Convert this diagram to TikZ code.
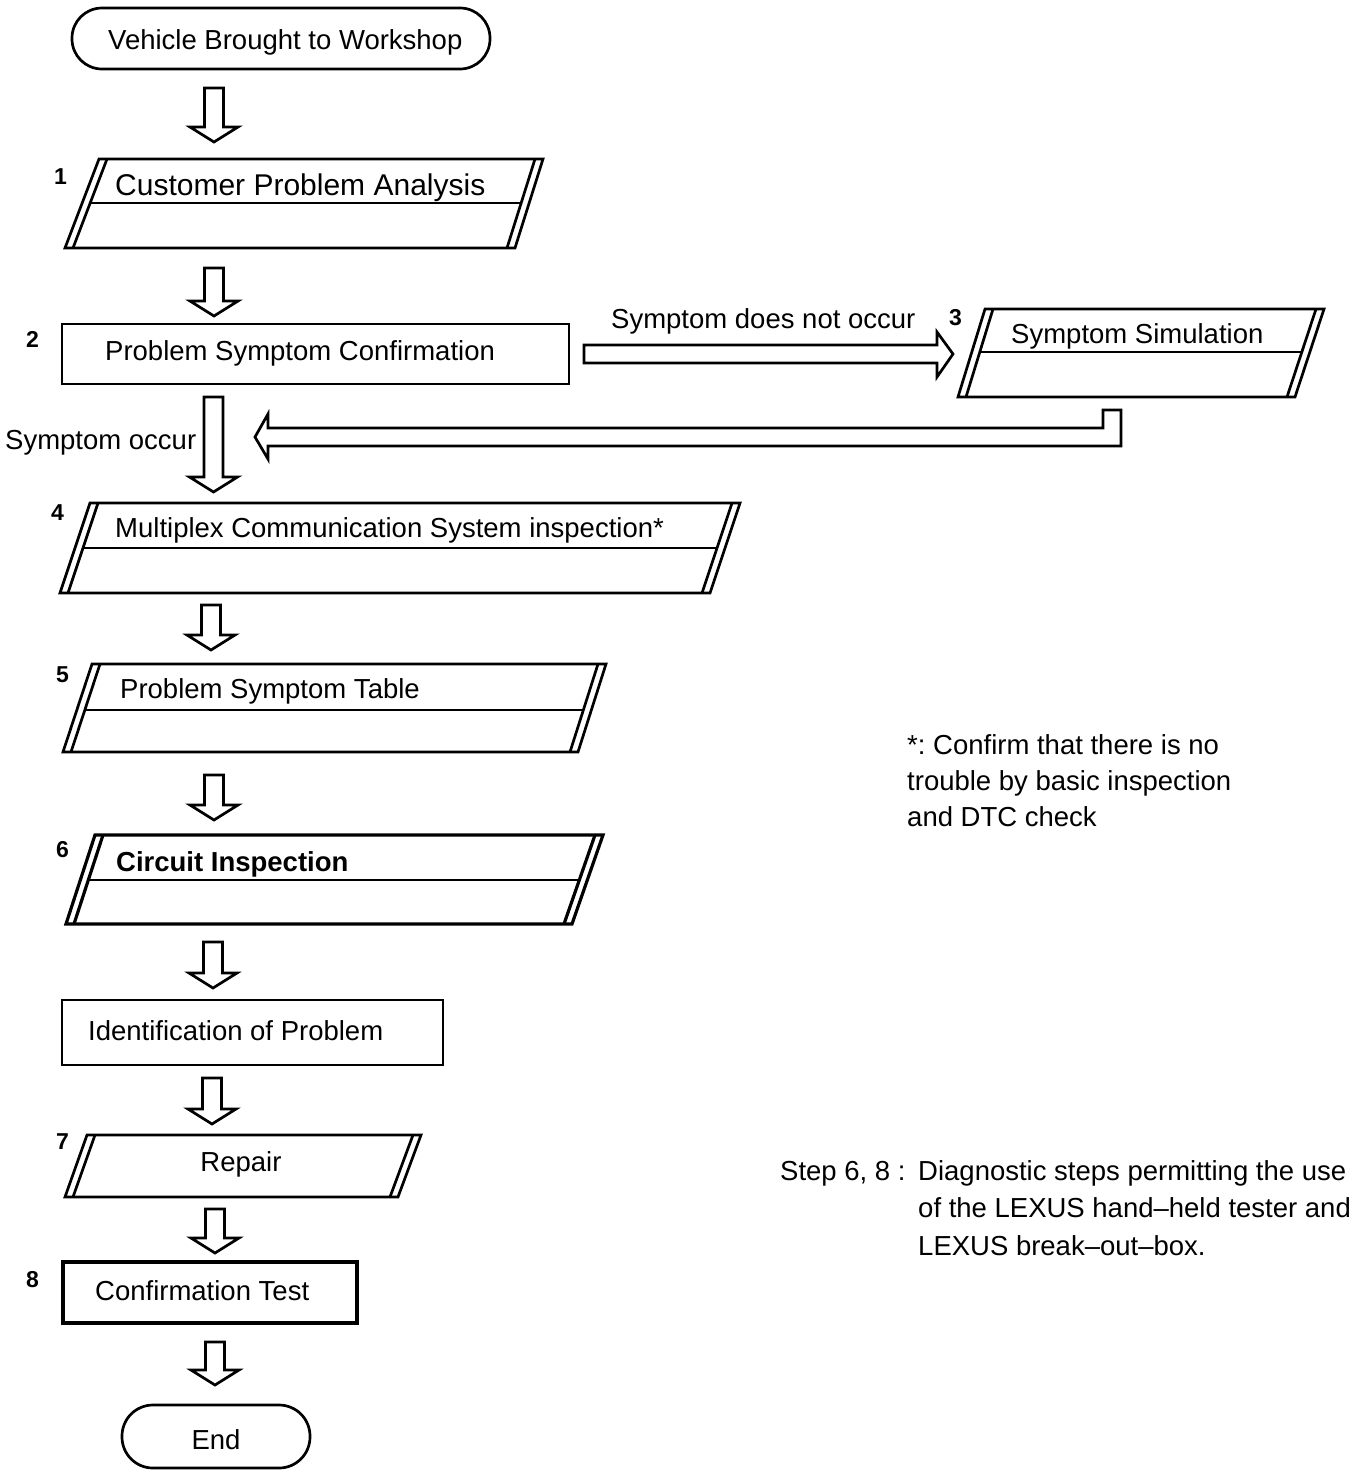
\documentclass[tikz,border=0pt]{standalone}
\usepackage{fontspec}
\setmainfont{Liberation Sans}
\newcommand\dnarrow[3]{%
  \draw[ln] ({#1-9.5},#2) -- ({#1+9.5},#2) -- ({#1+9.5},{#3-15}) -- ({#1+24},{#3-15}) -- (#1,#3) -- ({#1-24},{#3-15}) -- ({#1-9.5},{#3-15}) -- cycle;}
% top, bot, TLx, TRx, BLx, BRx, divider y, style
\newcommand\pgram[8]{%
  \draw[ln,#8] (#3,#1) -- (#4,#1) -- (#6,#2) -- (#5,#2) -- cycle;
  \draw[ln,#8] ({#3+8},#1) -- ({#5+8},#2);
  \draw[ln,#8] ({#4-8},#1) -- ({#6-8},#2);
  \ifx\relax#7\relax\else
  \draw[thinln] ({#3+8+(#5-#3)*(#7-#1)/(#2-#1)},#7) -- ({#4-8+(#6-#4)*(#7-#1)/(#2-#1)},#7);
  \fi}
\begin{document}
\frenchspacing
\begin{tikzpicture}[x=1pt,y=-1pt,
  ln/.style={line width=2.7pt, line join=miter},
  thinln/.style={line width=2.2pt},
  txt/.style={inner sep=0pt, anchor=base west, font=\fontsize{27.5}{33}\selectfont},
  num/.style={inner sep=0pt, anchor=base west, font=\fontsize{23}{27}\selectfont\bfseries},
]
\useasboundingbox (0,0) rectangle (1360,1478);
\fill[white] (0,0) rectangle (1360,1478);

% start terminal
\draw[ln, rounded corners=30pt] (72,8) rectangle (490,69);
\node[txt] (start) at (108,49) {Vehicle Brought to Workshop};
\dnarrow{214}{88}{142}

% 1
\pgram{159}{248}{99}{543}{65}{515}{203}{}
\node[num] (n1) at (54,184) {1};
\node[txt, font=\fontsize{30}{36}\selectfont] (t1) at (115,195) {Customer Problem Analysis};
\dnarrow{214}{268}{316}

% 2
\draw[ln] (62,324) rectangle (569,384);
\node[num] (n2) at (26,347) {2};
\node[txt] (t2) at (105,360) {Problem Symptom Confirmation};

% arrow to 3
\draw[ln] (584,345) -- (937,345) -- (937,332) -- (953,354) -- (937,377) -- (937,363) -- (584,363) -- cycle;
\node[txt] (no) at (611,328) {Symptom does not occur};

% 3
\pgram{309}{397}{985}{1324}{958}{1295}{352}{}
\node[num] (n3) at (949,325) {3};
\node[txt] (t3) at (1011,343) {Symptom Simulation};

% return arrow
\draw[ln] (1103,410) -- (1121,410) -- (1121,446) -- (268,446) -- (268,459) -- (255,437) -- (268,414) -- (268,428) -- (1103,428) -- cycle;

\node[txt] (occ) at (5,449) {Symptom occur};
\dnarrow{213.5}{397}{492}

% 4
\pgram{503}{593}{90}{740}{60}{710}{548}{}
\node[num] (n4) at (51,520) {4};
\node[txt] (t4) at (115,537) {Multiplex Communication System inspection*};
\dnarrow{211}{605}{650}

% 5
\pgram{664}{752}{92}{606}{63}{578}{710}{}
\node[num] (n5) at (56,682) {5};
\node[txt] (t5) at (120,698) {Problem Symptom Table};
\dnarrow{214}{775}{820}

% 6
\pgram{835}{924}{95}{603}{66}{572}{880}{line width=3.2pt}
\node[num] (n6) at (56,857) {6};
\node[txt, font=\fontsize{27.5}{33}\selectfont\bfseries] (t6) at (116,871) {Circuit Inspection};
\dnarrow{213}{942}{988}

% identification
\draw[ln] (62,1000) rectangle (443,1065);
\node[txt] (tid) at (88,1040) {Identification of Problem};
\dnarrow{212}{1078}{1124}

% 7
\pgram{1135}{1197}{87}{421}{65}{398}{}{}
\node[num] (n7) at (56,1149) {7};
\node[txt, anchor=base] (t7) at (241,1171) {Repair};
\dnarrow{215}{1209}{1253}

% 8
\draw[line width=4pt] (63,1262) rectangle (357,1323);
\node[num] (n8) at (26,1287) {8};
\node[txt] (t8) at (95,1300) {Confirmation Test};
\dnarrow{215}{1342}{1385}

% end
\draw[ln, rounded corners=31pt] (122,1405) rectangle (310,1468);
\node[txt, anchor=base] (tend) at (216,1449) {End};

% notes
\node[txt] (note1) at (907,754) {*: Confirm that there is no};
\node[txt] (note2) at (907,790) {trouble by basic inspection};
\node[txt] (note3) at (907,826) {and DTC check};

\node[txt] (step) at (780,1180) {Step 6, 8 :};
\node[txt] (s1) at (918,1180) {Diagnostic steps permitting the use};
\node[txt] (s2) at (918,1217) {of the LEXUS hand--held tester and};
\node[txt] (s3) at (918,1255) {LEXUS break--out--box.};
\end{tikzpicture}
\end{document}
